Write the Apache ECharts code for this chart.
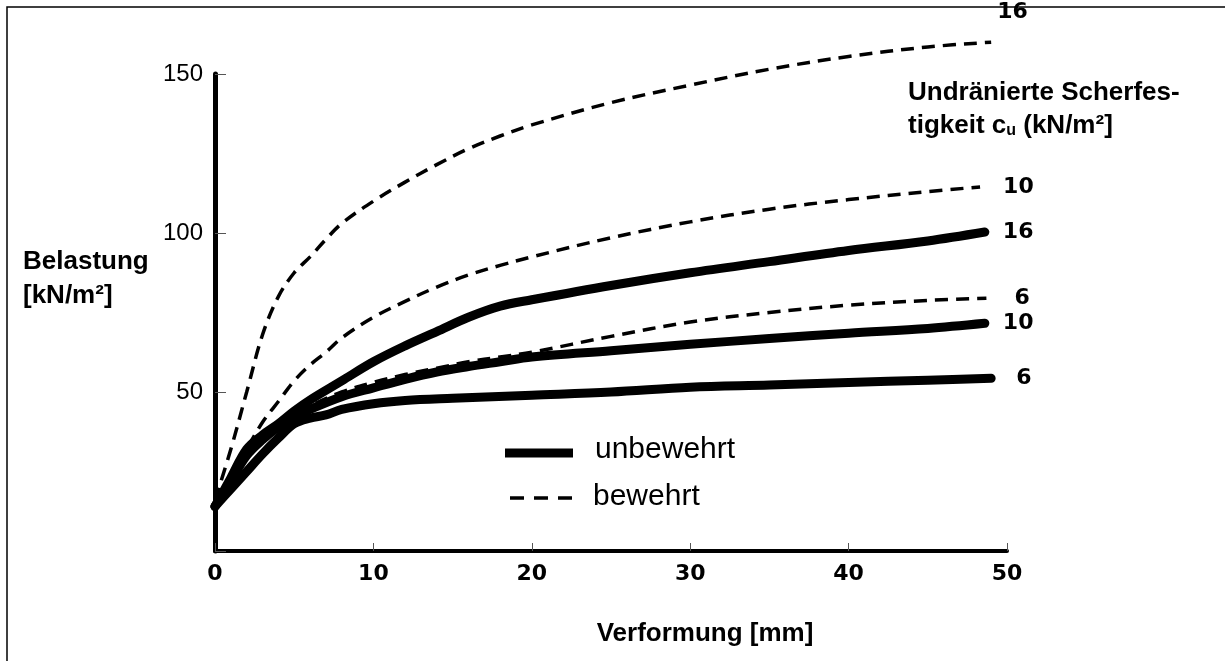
<!DOCTYPE html>
<html>
<head>
<meta charset="utf-8">
<script src="https://cdn.jsdelivr.net/npm/echarts@6/dist/echarts.min.js"></script>
<style>
html,body{margin:0;padding:0;background:#fff;}
#chart{width:1225px;height:661px;}
</style>
</head>
<body>
<div id="chart"></div>
<script>
// Verformung [mm] (x) and Belastung [kN/m²] (y)
const unb16X = [0,1,2,3,4,5,6,8,10,12,14,16,18,20,25,30,35,40,45,48.6];
const unb16Y = [14,23,32,36.5,40,44,47.5,53.5,59.5,64.5,69,73.5,77,79,83.5,87.5,91,94.5,97.5,100.3];
const unb10X = [0,1,2,3,4,5,6,8,10,12,14,16,18,20,25,30,35,40,45,48.6];
const unb10Y = [14,22,30,35,39,42,44.5,48.5,51.3,54,56.3,58,59.5,61,63,65,66.8,68.5,70,71.6];
const unb6X  = [0,1,2,3,4,5,6,7,8,10,12,15,20,25,30,35,40,45,49];
const unb6Y  = [14,19.5,25,30.5,35.5,40,41.8,42.8,44.5,46.3,47.3,48,49,50,51.5,52.2,53,53.7,54.3];
const bew16X = [0,1,2,3,4,5,6,7,8,10,12,14,16,18,20,25,30,35,40,45,49];
const bew16Y = [16,32,50,68,80,87.5,92.5,98,103,110,116,121.5,126.5,130.5,134,141,146.5,151.5,155.5,158.5,160];
const bew10X = [0,1,2,3,4,5,6,7,8,10,12,14,16,18,20,25,30,35,40,45,48.3];
const bew10Y = [16,23,32,40.5,47,53.5,58.5,62.5,67,73.5,78.5,83,86.8,89.8,92.5,98.5,103.5,107.5,110.5,113,114.5];
const bew6X  = [0,2,4,6,8,10,12,14,16,18,20,25,30,35,40,45,48.7];
const bew6Y  = [14,30,39,45.5,50,53,55.5,57.5,59.5,61,62.5,67.5,72,75,77.3,78.8,79.5];
const xTicks = [0,10,20,30,40,50];
const yTicks = [50,100,150];
const endNames = {unb16:'16', unb10:'10', unb6:'6', bew16:'16', bew10:'10', bew6:'6'};

function pairs(xs, ys){ return xs.map((x,i)=>[x, ys[i]]); }

const numFont = {fontFamily:'DejaVu Sans', fontWeight:'bold', fontSize:22, color:'#000'};

function series(id, xs, ys, dashed, dist, offY){
  return {
    type:'line', name:id, data:pairs(xs,ys), smooth:0.35, symbol:'none', clip:false,
    lineStyle: dashed ? {color:'#000', width:3.5, type:[13,8]} : {color:'#000', width:9, cap:'round', join:'round'},
    endLabel:{show:true, formatter:endNames[id], distance:dist, offset:[0, offY||0], ...numFont},
    z: dashed ? 3 : 2
  };
}

const chart = echarts.init(document.getElementById('chart'), null, {renderer:'canvas'});
chart.setOption({
  animation:false,
  backgroundColor:'#fff',
  grid:{left:215, right:218, top:74, bottom:110, containLabel:false},
  xAxis:{
    type:'value', min:0, max:50, interval:10,
    axisLine:{show:true, lineStyle:{color:'#000', width:4}},
    axisTick:{show:true, inside:true, length:8, lineStyle:{color:'#555', width:1}},
    axisLabel:{margin:12, ...numFont, formatter:v=> xTicks.includes(v)? String(v):''},
    splitLine:{show:false}
  },
  yAxis:{
    type:'value', min:0, max:150, interval:50,
    axisLine:{show:true, lineStyle:{color:'#000', width:5}},
    axisTick:{show:true, inside:true, length:11, lineStyle:{color:'#555', width:1}},
    axisLabel:{margin:12, fontFamily:'Liberation Sans', fontSize:24, color:'#000',
      formatter:v=> yTicks.includes(v)? String(v):''},
    splitLine:{show:false}
  },
  series:[
    series('unb6', unb6X, unb6Y, false, 25),
    series('unb10', unb10X, unb10Y, false, 18),
    series('unb16', unb16X, unb16Y, false, 18),
    series('bew6', bew6X, bew6Y, true, 28),
    series('bew10', bew10X, bew10Y, true, 23),
    series('bew16', bew16X, bew16Y, true, 6, -30)
  ],
  graphic:[
    {type:'rect', shape:{x:7, y:7, width:1400, height:800}, style:{fill:'none', stroke:'#000', lineWidth:1.5}, z:0},
    {type:'text', left:23, top:249, style:{text:'Belastung', font:'bold 26px "Liberation Sans"', fill:'#000'}},
    {type:'text', left:23, top:283, style:{text:'[kN/m²]', font:'bold 26px "Liberation Sans"', fill:'#000'}},
    {type:'text', x:705, y:634, style:{text:'Verformung [mm]', font:'bold 26px "Liberation Sans"', fill:'#000', align:'center', verticalAlign:'middle'}},
    {type:'text', x:908, y:93, style:{text:'Undränierte Scherfes-', font:'bold 26px "Liberation Sans"', fill:'#000', verticalAlign:'middle'}},
    {type:'text', x:908, y:126, style:{
      text:'tigkeit c{sub|u} (kN/m²]', fontFamily:'Liberation Sans', fontWeight:'bold', fontSize:26, fill:'#000', verticalAlign:'middle',
      rich:{sub:{fontFamily:'Liberation Sans', fontWeight:'bold', fontSize:16, fill:'#000', padding:[10,0,0,0]}}
    }},
    {type:'line', shape:{x1:505, y1:453, x2:573, y2:453}, style:{stroke:'#000', lineWidth:9}},
    {type:'line', shape:{x1:510, y1:498, x2:582, y2:498}, style:{stroke:'#000', lineWidth:3.5, lineDash:[14,10]}},
    {type:'text', x:595, y:450, style:{text:'unbewehrt', font:'30px "Liberation Sans"', fill:'#000', verticalAlign:'middle'}},
    {type:'text', x:593, y:497, style:{text:'bewehrt', font:'30px "Liberation Sans"', fill:'#000', verticalAlign:'middle'}}
  ]
});
</script>
</body>
</html>
